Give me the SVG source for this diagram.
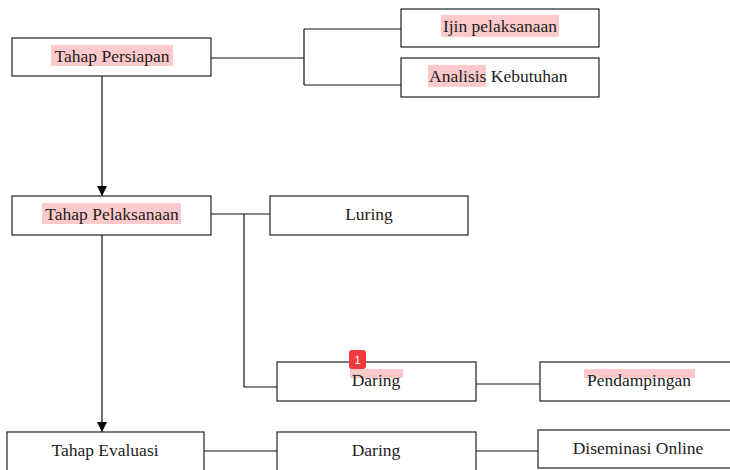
<svg xmlns="http://www.w3.org/2000/svg" width="730" height="470" viewBox="0 0 730 470">
<defs>
<style>
.box{fill:#fff;stroke:#222;stroke-width:1.2}
.hl{fill:#fccaca}
.t{font-family:"Liberation Serif","DejaVu Serif",serif;font-size:17.5px;fill:#222;text-anchor:middle}
.c{fill:none;stroke:#111;stroke-width:1.2}
</style>
<marker id="arr" viewBox="0 0 10 10" refX="10" refY="5" markerWidth="10" markerHeight="10" markerUnits="userSpaceOnUse" orient="auto">
<path d="M0,0 L10,5 L0,10 z" fill="#000"/>
</marker>
</defs>
<rect width="730" height="470" fill="#fff"/>
<g id="connectors">
<path class="c" d="M211,58 H304 M304,29 V85 M304,29 H401 M304,85 H401"/>
<path class="c" d="M102,76 V196" marker-end="url(#arr)"/>
<path class="c" d="M211,214 H270 M244,214 V387 H277"/>
<path class="c" d="M476,384 H540"/>
<path class="c" d="M102,235 V432" marker-end="url(#arr)"/>
<path class="c" d="M204,451 H277 M476,451 H538"/>
</g>
<g id="n-persiapan">
<rect class="box" x="12" y="38" width="199" height="38"/>
<rect class="hl" x="51" y="45" width="122" height="21"/>
<text class="t" x="112" y="62">Tahap Persiapan</text>
</g>
<g id="n-ijin">
<rect class="box" x="401" y="9" width="198" height="38"/>
<rect class="hl" x="441" y="15" width="118" height="22"/>
<text class="t" x="500" y="32">Ijin pelaksanaan</text>
</g>
<g id="n-analisis">
<rect class="box" x="401" y="58" width="198" height="39"/>
<rect class="hl" x="428" y="65" width="58" height="22"/>
<text class="t" x="429" y="82" style="text-anchor:start">Analisis Kebutuhan</text>
</g>
<g id="n-pelaksanaan">
<rect class="box" x="12" y="196" width="199" height="39"/>
<rect class="hl" x="42" y="203" width="139" height="21"/>
<text class="t" x="112" y="220">Tahap Pelaksanaan</text>
</g>
<g id="n-luring">
<rect class="box" x="270" y="196" width="198" height="39"/>
<text class="t" x="369" y="220">Luring</text>
</g>
<g id="n-daring1">
<rect class="box" x="277" y="362" width="199" height="39"/>
<rect class="hl" x="350" y="369" width="53" height="9"/>
<text class="t" x="376" y="386">Daring</text>
</g>
<g id="n-badge">
<rect x="349" y="350" width="17" height="19" rx="3" fill="#f23a3a"/>
<text x="357.5" y="364" font-family="Liberation Sans, Arial, sans-serif" font-size="11" fill="#fff" text-anchor="middle">1</text>
</g>
<g id="n-pendampingan">
<rect class="box" x="540" y="362" width="195" height="39"/>
<rect class="hl" x="584" y="369" width="111" height="9"/>
<text class="t" x="639" y="386">Pendampingan</text>
</g>
<g id="n-evaluasi">
<rect class="box" x="7" y="432" width="197" height="42"/>
<text class="t" x="105" y="456">Tahap Evaluasi</text>
</g>
<g id="n-daring2">
<rect class="box" x="277" y="432" width="199" height="42"/>
<text class="t" x="376" y="456">Daring</text>
</g>
<g id="n-diseminasi">
<rect class="box" x="538" y="430" width="197" height="38"/>
<text class="t" x="638" y="454">Diseminasi Online</text>
</g>
</svg>
